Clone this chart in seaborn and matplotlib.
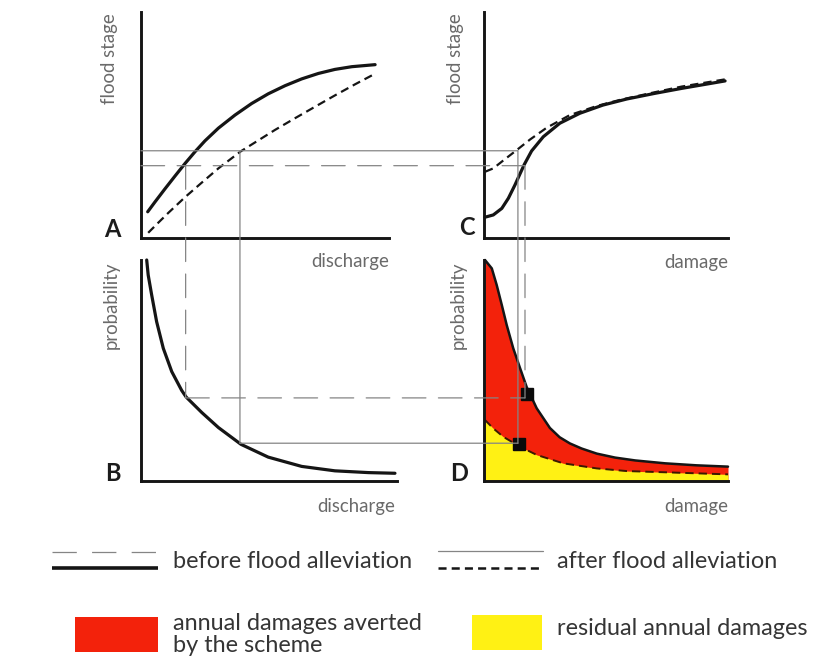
import matplotlib
matplotlib.use("Agg")
import matplotlib.pyplot as plt
from matplotlib.patches import ConnectionPatch, Rectangle
from matplotlib.lines import Line2D
import seaborn as sns

# ---------------- data (arbitrary 0-10 units) ----------------
# Panel A: stage-discharge
a_discharge_before = [0.27, 0.56, 0.97, 1.37, 1.77, 2.18, 2.58, 3.12, 3.79, 4.46, 5.13, 5.81, 6.48, 7.15, 7.82, 8.50, 9.44]
a_stage_before     = [1.16, 1.59, 2.18, 2.74, 3.29, 3.82, 4.30, 4.86, 5.44, 5.95, 6.38, 6.74, 7.04, 7.28, 7.46, 7.58, 7.67]
a_discharge_after  = [0.29, 0.70, 1.10, 1.77, 2.45, 3.12, 4.03, 4.73, 5.40, 6.21, 7.02, 7.82, 8.63, 9.44]
a_stage_after      = [0.23, 0.68, 1.11, 1.80, 2.45, 3.08, 3.84, 4.32, 4.78, 5.30, 5.81, 6.31, 6.80, 7.27]

# Panel B: discharge-probability
b_discharge   = [0.23, 0.29, 0.43, 0.63, 0.90, 1.24, 1.64, 1.82, 2.45, 3.12, 4.03, 5.13, 6.48, 7.82, 9.17, 10.24]
b_probability = [10.0, 9.32, 8.42, 7.21, 6.00, 4.95, 4.10, 3.80, 3.10, 2.42, 1.66, 1.08, 0.66, 0.46, 0.38, 0.35]

# Panel C: stage-damage
c_damage_before = [0.04, 0.38, 0.73, 1.00, 1.27, 1.48, 1.65, 1.95, 2.43, 3.11, 3.93, 4.87, 5.85, 7.00, 8.10, 9.88]
c_stage_before  = [0.92, 1.02, 1.31, 1.76, 2.35, 2.85, 3.25, 3.85, 4.48, 5.08, 5.52, 5.88, 6.15, 6.40, 6.62, 6.95]
c_damage_after  = [0.04, 0.38, 0.79, 1.34, 1.89, 2.57, 3.52, 4.62, 5.57, 7.00, 8.10, 9.88]
c_stage_after   = [2.93, 3.08, 3.43, 3.89, 4.36, 4.88, 5.44, 5.84, 6.11, 6.45, 6.70, 7.02]

# Panel D: damage-probability
d_damage_before      = [0.04, 0.32, 0.52, 0.73, 0.93, 1.20, 1.48, 1.75, 2.16, 2.70, 3.10, 3.52, 4.00, 4.62, 5.37, 6.20, 7.42, 8.70, 10.0]
d_probability_before = [10.0, 9.62, 8.87, 7.96, 7.06, 6.00, 5.10, 4.25, 3.29, 2.40, 1.98, 1.70, 1.47, 1.24, 1.06, 0.93, 0.80, 0.71, 0.65]
d_damage_after       = [0.04, 0.38, 0.79, 1.48, 2.16, 3.25, 4.62, 5.85, 7.00, 8.10, 10.0]
d_probability_after  = [2.76, 2.38, 2.00, 1.55, 1.18, 0.80, 0.57, 0.45, 0.41, 0.37, 0.30]

# construction values: (discharge, stage, probability, damage)
before_event = dict(discharge=1.80, stage=3.20, probability=3.76, damage=1.68)
after_event  = dict(discharge=3.99, stage=3.86, probability=1.71, damage=1.39)
marker_damage      = [1.78, 1.45]
marker_probability = [3.95, 1.69]

panel_letters = ["A", "B", "C", "D"]
x_labels = ["discharge", "discharge", "damage", "damage"]
y_labels = ["flood stage", "probability", "flood stage", "probability"]
legend_line_texts = ["before flood alleviation", "after flood alleviation"]
legend_fill_texts = [["annual damages averted", "by the scheme"], ["residual annual damages"]]

# ---------------- style ----------------
sns.set_theme(style="white")
plt.rcParams["font.family"] = ["Lato", "DejaVu Sans"]
plt.rcParams["lines.scale_dashes"] = False

RED = "#f3220b"
YELLOW = "#fff114"
INK = "#151515"
GUIDE = "#858585"
LABEL = "#6a6a6a"
TEXT = "#353535"
CURVE_DASH = (0, (6, 3.6))
GUIDE_DASH = (0, (17, 9))

W, H = 830, 665
fig = plt.figure(figsize=(W / 100, H / 100), dpi=100)
fig.patch.set_facecolor("white")


def box(l, t, r, b):
    return [l / W, 1 - b / H, (r - l) / W, (b - t) / H]


def fx(px):
    return px / W


def fy(py):
    return 1 - py / H


axA = fig.add_axes(box(141, 12, 389, 238))
axB = fig.add_axes(box(141, 260, 397, 481))
axC = fig.add_axes(box(484, 12, 728, 238))
axD = fig.add_axes(box(484, 260, 728, 481))
axes = [axA, axB, axC, axD]

b_xmax = 10 * (397 - 141) / (389 - 141)
for ax, xmax in zip(axes, [10, b_xmax, 10, 10]):
    ax.set_xlim(0, xmax)
    ax.set_ylim(0, 10)
    ax.set_facecolor("none")
    ax.set_xticks([])
    ax.set_yticks([])
    for s in ["top", "right"]:
        ax.spines[s].set_visible(False)
    for s in ["left", "bottom"]:
        ax.spines[s].set_linewidth(2.1)
        ax.spines[s].set_color(INK)
        ax.spines[s].set_capstyle("projecting")
        ax.spines[s].set_zorder(5)

# ---------------- fills (panel D) ----------------
axD.fill_between(d_damage_before, d_probability_before, 0, color=RED, lw=0, zorder=1)
axD.fill_between(d_damage_after, d_probability_after, 0, color=YELLOW, lw=0, zorder=1.5)

# ---------------- curves ----------------
common = dict(sort=False, estimator=None, clip_on=False, legend=False,
              solid_joinstyle="round", dash_joinstyle="round")
sns.lineplot(x=a_discharge_before, y=a_stage_before, ax=axA, color=INK, linewidth=2.3, zorder=3, **common)
sns.lineplot(x=a_discharge_after, y=a_stage_after, ax=axA, color=INK, linewidth=1.6,
             linestyle=CURVE_DASH, zorder=3, **common)
sns.lineplot(x=b_discharge, y=b_probability, ax=axB, color=INK, linewidth=2.3, zorder=3, **common)
sns.lineplot(x=c_damage_before, y=c_stage_before, ax=axC, color=INK, linewidth=2.3, zorder=3, **common)
sns.lineplot(x=c_damage_after, y=c_stage_after, ax=axC, color=INK, linewidth=1.6,
             linestyle=CURVE_DASH, zorder=3, **common)
sns.lineplot(x=d_damage_before, y=d_probability_before, ax=axD, color=INK, linewidth=1.8, zorder=3, **common)
sns.lineplot(x=d_damage_after, y=d_probability_after, ax=axD, color="#3a1a00", linewidth=1.4,
             linestyle=CURVE_DASH, zorder=3, **common)

# ---------------- construction lines ----------------
def connect(axa, xya, axb, xyb, ls):
    cp = ConnectionPatch(xyA=xya, coordsA=axa.transData, xyB=xyb, coordsB=axb.transData,
                         color=GUIDE, linewidth=0.9, linestyle=ls, zorder=2)
    fig.add_artist(cp)


for ev, ls in [(before_event, GUIDE_DASH), (after_event, "-")]:
    q, h, p, d = ev["discharge"], ev["stage"], ev["probability"], ev["damage"]
    connect(axA, (0, h), axC, (d, h), ls)
    connect(axA, (q, h), axB, (q, p), ls)
    connect(axB, (q, p), axD, (d, p), ls)
    connect(axC, (d, h), axD, (d, p), ls)

axD.plot(marker_damage, marker_probability, ls="none", marker="s", ms=8, color="#0a0a0a",
         zorder=6, clip_on=False)

# ---------------- text ----------------
renderer = fig.canvas.get_renderer()


def fitted_size(sample, target, family_size=12, rotation=0, weight="normal"):
    t = fig.text(0, 0, sample, fontsize=family_size, rotation=rotation, weight=weight)
    bb = t.get_window_extent(renderer)
    t.remove()
    size = bb.height if rotation else bb.width
    return family_size * target / size


lab_size = fitted_size("discharge", 75)
ylab_size = fitted_size("flood stage", 94, rotation=90)
lab_size = (lab_size + ylab_size) / 2

# x labels (right aligned, baseline)
xl_pos = [(389, 267), (395, 512), (728, 268), (728, 512)]
for lab, (px, py) in zip(x_labels, xl_pos):
    fig.text(fx(px), fy(py), lab, ha="right", va="baseline", color=LABEL, fontsize=lab_size)

# y labels (rotated, top aligned)
yl_pos = [(109, 13), (111, 262), (455, 13), (458, 262)]
for lab, (px, py) in zip(y_labels, yl_pos):
    fig.text(fx(px), fy(py), lab, ha="center", va="top", rotation=90, color=LABEL, fontsize=lab_size)

# panel letters
let_pos = [(112, 237), (112.5, 481), (466.5, 235), (459, 481)]
for lt, (px, py) in zip(panel_letters, let_pos):
    fig.text(fx(px), fy(py), lt, ha="center", va="baseline", color="#1c1c1c",
             fontsize=17, weight="bold")

# ---------------- legend ----------------
leg_size = fitted_size(legend_line_texts[0], 239)

fig.add_artist(Line2D([fx(52), fx(158)], [fy(551.5), fy(551.5)], color=GUIDE, lw=0.9,
                      linestyle=(0, (17.5, 11))))
fig.add_artist(Line2D([fx(52), fx(158)], [fy(568), fy(568)], color=INK, lw=2.6, solid_capstyle="butt"))
fig.text(fx(173), fy(568), legend_line_texts[0], ha="left", va="baseline", color=TEXT, fontsize=leg_size)

fig.add_artist(Line2D([fx(438), fx(543)], [fy(551), fy(551)], color=GUIDE, lw=0.9))
fig.add_artist(Line2D([fx(438), fx(543)], [fy(568), fy(568)], color=INK, lw=1.8,
                      linestyle=(0, (5.8, 3.7))))
fig.text(fx(557), fy(568), legend_line_texts[1], ha="left", va="baseline", color=TEXT, fontsize=leg_size)

fig.add_artist(Rectangle((fx(75), fy(651.5)), fx(158) - fx(75), fy(616.5) - fy(651.5),
                         transform=fig.transFigure, color=RED, lw=0))
for line, py in zip(legend_fill_texts[0], [630, 652]):
    fig.text(fx(173), fy(py), line, ha="left", va="baseline", color=TEXT, fontsize=leg_size)

fig.add_artist(Rectangle((fx(472), fy(650)), fx(542) - fx(472), fy(615) - fy(650),
                         transform=fig.transFigure, color=YELLOW, lw=0))
for line in legend_fill_texts[1]:
    fig.text(fx(557), fy(635), line, ha="left", va="baseline", color=TEXT, fontsize=leg_size)

fig.savefig("out.png", dpi=100, facecolor="white")
